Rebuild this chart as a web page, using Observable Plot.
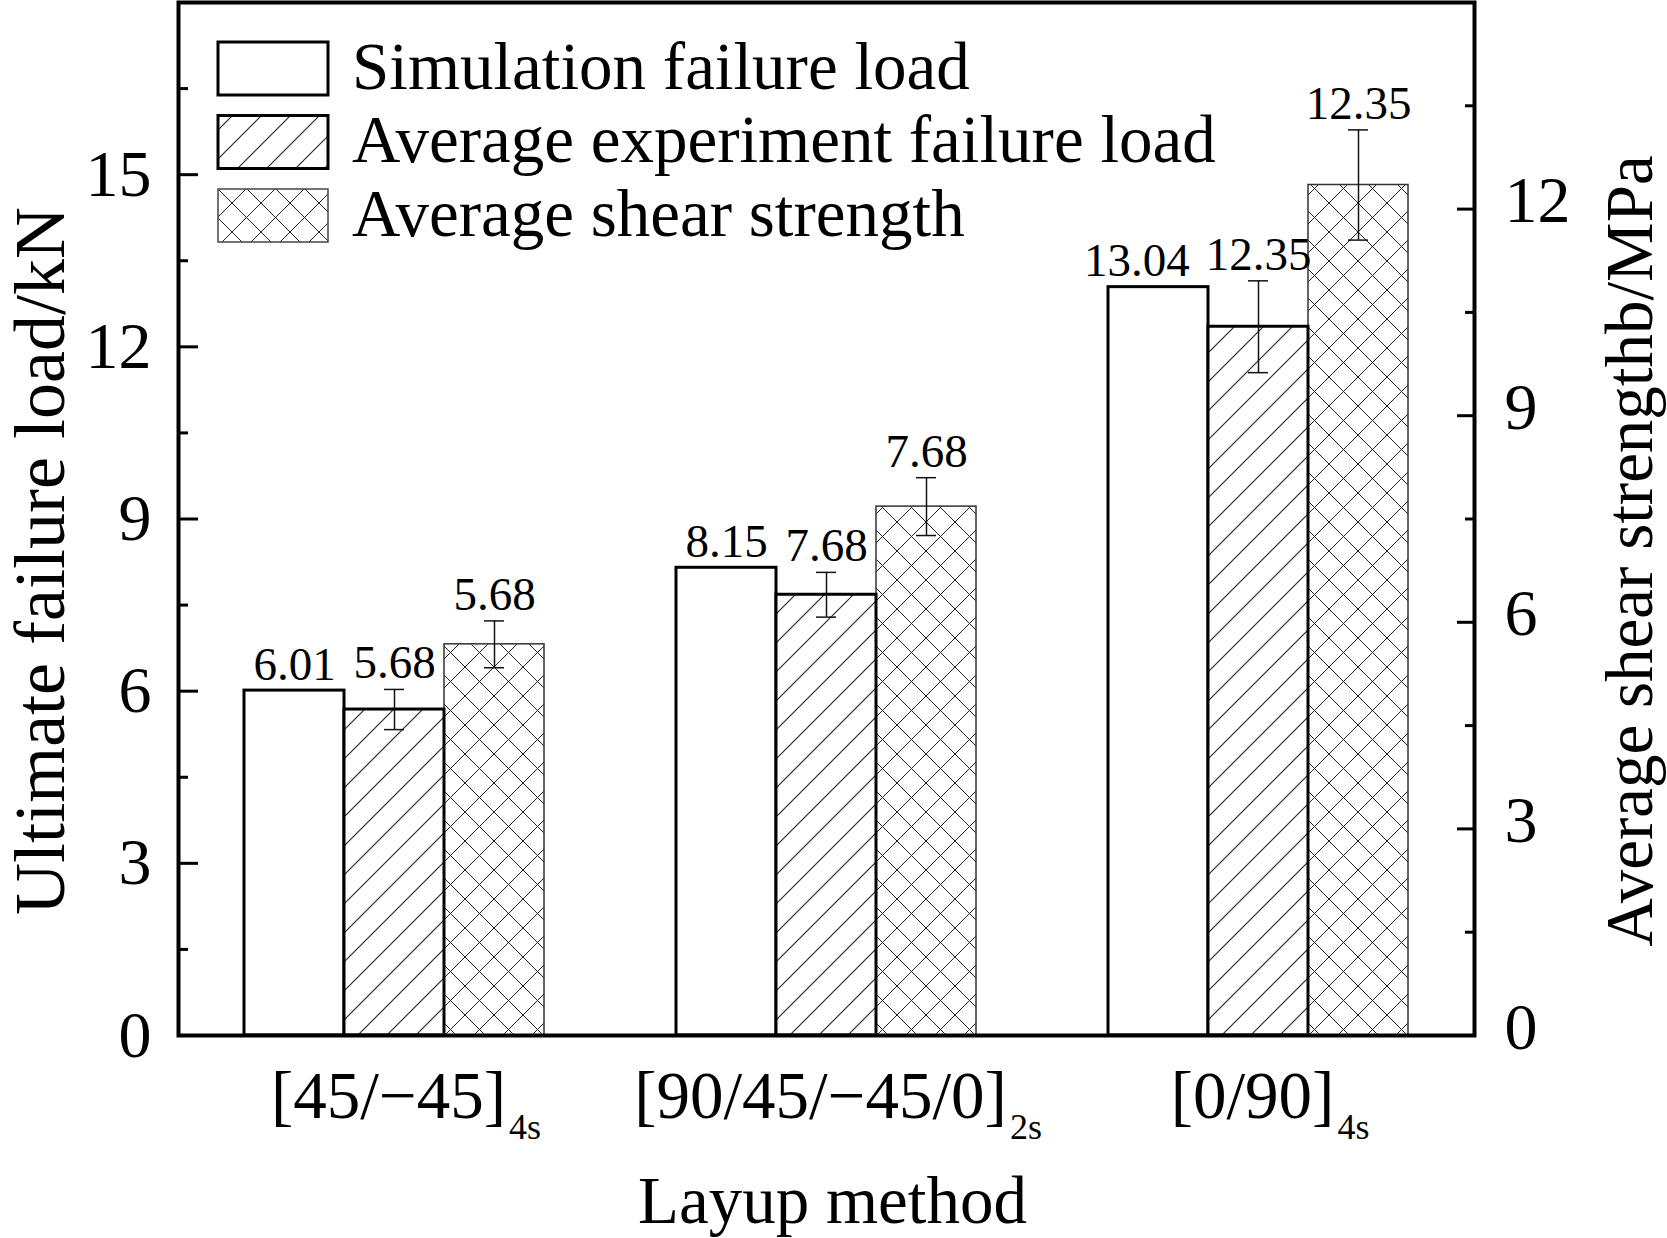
<!DOCTYPE html>
<html>
<head>
<meta charset="utf-8">
<script src="https://cdn.jsdelivr.net/npm/d3@7"></script>
<script src="https://cdn.jsdelivr.net/npm/@observablehq/plot@0.6"></script>
<style>
html, body { margin: 0; padding: 0; background: #fff; }
#chart { width: 1667px; height: 1238px; }
</style>
</head>
<body>
<div id="chart"></div>
<script>
// ---- data ----
const layups = ["[45/\u221245]", "[90/45/\u221245/0]", "[0/90]"];
const layupSubs = ["4s", "2s", "4s"];
const seriesNames = ["Simulation failure load", "Average experiment failure load", "Average shear strength"];
const simLoad = [6.01, 8.15, 13.04];          // kN
const expLoad = [5.68, 7.68, 12.35];          // kN
const expErr = [0.35, 0.39, 0.80];            // kN
const shearStrength = [5.68, 7.68, 12.35];    // MPa
const shearErr = [0.34, 0.42, 0.80];          // MPa
const leftTicks = [0, 3, 6, 9, 12, 15];
const leftMinor = [1.5, 4.5, 7.5, 10.5, 13.5, 16.5];
const rightTicks = [0, 3, 6, 9, 12];
const rightMinor = [1.5, 4.5, 7.5, 10.5, 13.5];
const loadMax = 18;
const strengthMax = 15;
const yTitle = "Ultimate failure load/kN";
const y2Title = "Average shear strengthb/MPa";
const xTitle = "Layup method";

const k = loadMax / strengthMax; // MPa -> left-axis units

const rows = layups.flatMap((g, i) => [
  {group: g, series: seriesNames[0], v: simLoad[i], e: 0, label: simLoad[i].toFixed(2)},
  {group: g, series: seriesNames[1], v: expLoad[i], e: expErr[i], label: expLoad[i].toFixed(2)},
  {group: g, series: seriesNames[2], v: shearStrength[i] * k, e: shearErr[i] * k, label: shearStrength[i].toFixed(2)}
]);
const simRows = rows.filter(d => d.series === seriesNames[0]);
const expRows = rows.filter(d => d.series === seriesNames[1]);
const shearRows = rows.filter(d => d.series === seriesNames[2]);
const errRows = rows.filter(d => d.e > 0);

const font = "'Liberation Serif', 'Times New Roman', Times, serif";

const plot = Plot.plot({
  width: 1667,
  height: 1238,
  marginLeft: 177,
  marginRight: 192,
  marginTop: 2,
  marginBottom: 203,
  style: {fontFamily: font, color: "#000", background: "#fff", overflow: "visible"},
  fx: {domain: layups, paddingInner: 0, paddingOuter: 0, axis: null, label: null},
  x: {domain: seriesNames, paddingInner: 0, paddingOuter: 0.643, axis: null, label: null},
  y: {domain: [0, loadMax], label: null},
  marks: [
    Plot.barY(simRows, {fx: "group", x: "series", y: "v", fill: "#fff", stroke: "#000", strokeWidth: 3}),
    Plot.barY(shearRows, {fx: "group", x: "series", y: "v", fill: "url(#crossHatch)", stroke: "#333", strokeWidth: 1.5}),
    Plot.barY(expRows, {fx: "group", x: "series", y: "v", fill: "url(#diagHatch)", stroke: "#000", strokeWidth: 3}),
    Plot.ruleX(errRows, {fx: "group", x: "series", y1: d => d.v - d.e, y2: d => d.v + d.e, stroke: "#111", strokeWidth: 1.5}),
    Plot.tickY(errRows, {fx: "group", x: "series", y: d => d.v + d.e, insetLeft: 40, insetRight: 40, stroke: "#111", strokeWidth: 1.5}),
    Plot.tickY(errRows, {fx: "group", x: "series", y: d => d.v - d.e, insetLeft: 40, insetRight: 40, stroke: "#111", strokeWidth: 1.5}),
    Plot.text(rows, {fx: "group", x: "series", y: d => d.v + d.e, text: "label", dy: -11, lineAnchor: "bottom", fontSize: 47, fill: "#000"}),
    Plot.frame({facet: "super", stroke: "#000", strokeWidth: 4}),
    // left axis
    Plot.axisY(leftTicks, {anchor: "left", tickSize: -20, strokeWidth: 3, tickFormat: () => "", label: null}),
    Plot.axisY(leftMinor, {anchor: "left", tickSize: -10, strokeWidth: 3, tickFormat: () => "", label: null}),
    Plot.axisY(leftTicks, {anchor: "left", tickSize: 0, tickPadding: 27, fontSize: 66, tickFormat: d => String(d), label: null}),
    // right axis (MPa)
    Plot.axisY(rightTicks.map(t => t * k), {anchor: "right", tickSize: -18, strokeWidth: 3, tickFormat: () => "", label: null}),
    Plot.axisY(rightMinor.map(t => t * k), {anchor: "right", tickSize: -10, strokeWidth: 3, tickFormat: () => "", label: null}),
    Plot.axisY(rightTicks.map(t => t * k), {anchor: "right", tickSize: 0, tickPadding: 30, dy: -8, fontSize: 66, tickFormat: d => String(Math.round(d / k)), label: null}),
    // x tick labels
    Plot.text(layups, {fx: d => d, text: d => d, frameAnchor: "bottom", lineAnchor: "bottom", dy: 82, fontSize: 67, fill: "#000"}),
    // axis titles
    Plot.text([yTitle], {facet: "super", text: d => d, frameAnchor: "left", rotate: -90, lineAnchor: "bottom", textAnchor: "middle", dx: -115, dy: 42, fontSize: 72, fill: "#000"}),
    Plot.text([y2Title], {facet: "super", text: d => d, frameAnchor: "right", rotate: -90, lineAnchor: "bottom", textAnchor: "middle", dx: 177, dy: 32, fontSize: 67, fill: "#000"}),
    Plot.text([xTitle], {facet: "super", text: d => d, frameAnchor: "bottom", lineAnchor: "bottom", textAnchor: "middle", dx: 6, dy: 187, fontSize: 67, fill: "#000"})
  ]
});

const ns = "http://www.w3.org/2000/svg";
const svg = d3.select(plot);

// hatch patterns
const defs = svg.insert("defs", ":first-child");
const p1 = defs.append("pattern").attr("id", "diagHatch").attr("patternUnits", "userSpaceOnUse").attr("width", 29).attr("height", 29);
p1.append("rect").attr("width", 29).attr("height", 29).attr("fill", "#fff");
p1.append("path").attr("d", "M-2,31 L31,-2 M-8,8 L8,-8 M21,37 L37,21").attr("stroke", "#222").attr("stroke-width", 1.1).attr("fill", "none");
const p2 = defs.append("pattern").attr("id", "crossHatch").attr("patternUnits", "userSpaceOnUse").attr("width", 29).attr("height", 29);
p2.append("rect").attr("width", 29).attr("height", 29).attr("fill", "#fff");
p2.append("path").attr("d", "M-2,31 L31,-2 M-8,8 L8,-8 M21,37 L37,21 M-2,-2 L31,31 M-8,21 L8,37 M21,-8 L37,8").attr("stroke", "#222").attr("stroke-width", 1.0).attr("fill", "none");

// subscripts on layup labels
const subTspans = [];
svg.selectAll("text").each(function() {
  const idx = layups.indexOf(this.textContent);
  if (idx < 0) return;
  const ts = document.createElementNS(ns, "tspan");
  ts.setAttribute("font-size", 36);
  ts.setAttribute("dy", 21);
  ts.setAttribute("dx", 3);
  ts.textContent = layupSubs[idx];
  this.appendChild(ts);
  subTspans.push([this, ts]);
});

// legend (inside the frame, upper left)
const legendFills = ["#fff", "url(#diagHatch)", "url(#crossHatch)"];
const legendStrokes = ["#000", "#000", "#444"];
const legendStrokeW = [3, 3, 1.5];
const lg = svg.append("g").attr("class", "legend").attr("font-family", font).attr("text-anchor", "start");
seriesNames.forEach((name, i) => {
  const top = 42 + i * 73.5;
  lg.append("rect").attr("x", 218).attr("y", top).attr("width", 110).attr("height", 53)
    .attr("fill", legendFills[i]).attr("stroke", legendStrokes[i]).attr("stroke-width", legendStrokeW[i]);
  lg.append("text").attr("x", 352).attr("y", top + 46.5).attr("font-size", 67).attr("fill", "#000").attr("text-anchor", "start").text(name);
});

document.getElementById("chart").appendChild(plot);

// centre the main part of each layup label (subscript hangs to the right)
subTspans.forEach(([t, ts]) => {
  const w = ts.getComputedTextLength() + 3;
  t.setAttribute("dx", w / 2 - 6);
});

// nudge value labels that collide with their right-hand neighbour
const labelSet = new Set(rows.map(d => d.label));
const labels = [];
svg.selectAll("text").each(function() {
  if (/^\d+\.\d\d$/.test(this.textContent) && labelSet.has(this.textContent)) labels.push(this);
});
labels.forEach(a => {
  const ra = a.getBoundingClientRect();
  labels.forEach(b => {
    if (a === b) return;
    const rb = b.getBoundingClientRect();
    const vOverlap = ra.top < rb.bottom && rb.top < ra.bottom;
    if (vOverlap && rb.left > ra.left && ra.right + 6 > rb.left) {
      a.setAttribute("dx", -(ra.right + 16 - rb.left));
    }
  });
});
</script>
</body>
</html>
